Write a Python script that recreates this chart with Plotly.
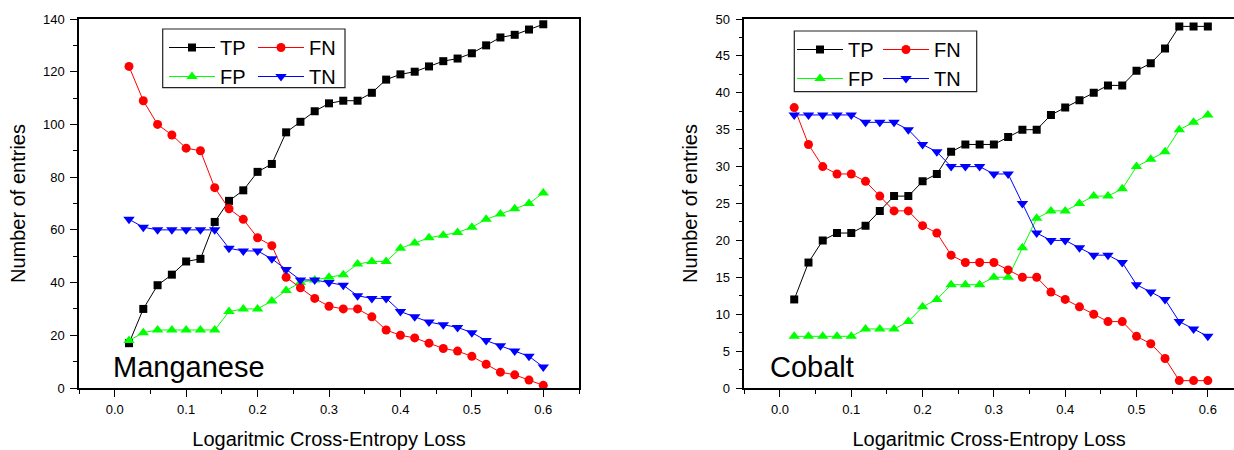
import plotly.graph_objects as go

# ---------------- data ----------------
loss = [0.02, 0.04, 0.06, 0.08, 0.10, 0.12, 0.14, 0.16, 0.18, 0.20,
        0.22, 0.24, 0.26, 0.28, 0.30, 0.32, 0.34, 0.36, 0.38, 0.40,
        0.42, 0.44, 0.46, 0.48, 0.50, 0.52, 0.54, 0.56, 0.58, 0.60]

mn_tp = [17, 30, 39, 43, 48, 49, 63, 71, 75, 82, 85, 97, 101, 105, 108,
         109, 109, 112, 117, 119, 120, 122, 124, 125, 127, 130, 133, 134, 136, 138]
mn_fn = [122, 109, 100, 96, 91, 90, 76, 68, 64, 57, 54, 42, 38, 34, 31,
         30, 30, 27, 22, 20, 19, 17, 15, 14, 12, 9, 6, 5, 3, 1]
mn_fp = [18, 21, 22, 22, 22, 22, 22, 29, 30, 30, 33, 37, 40, 41, 42,
         43, 47, 48, 48, 53, 55, 57, 58, 59, 61, 64, 66, 68, 70, 74]
mn_tn = [64, 61, 60, 60, 60, 60, 60, 53, 52, 52, 49, 45, 41, 41, 40,
         39, 35, 34, 34, 29, 27, 25, 24, 23, 21, 18, 16, 14, 12, 8]

co_tp = [12, 17, 20, 21, 21, 22, 24, 26, 26, 28, 29, 32, 33, 33, 33,
         34, 35, 35, 37, 38, 39, 40, 41, 41, 43, 44, 46, 49, 49, 49]
co_fn = [38, 33, 30, 29, 29, 28, 26, 24, 24, 22, 21, 18, 17, 17, 17,
         16, 15, 15, 13, 12, 11, 10, 9, 9, 7, 6, 4, 1, 1, 1]
co_fp = [7, 7, 7, 7, 7, 8, 8, 8, 9, 11, 12, 14, 14, 14, 15,
         15, 19, 23, 24, 24, 25, 26, 26, 27, 30, 31, 32, 35, 36, 37]
co_tn = [37, 37, 37, 37, 37, 36, 36, 36, 35, 33, 32, 30, 30, 30, 29,
         29, 25, 21, 20, 20, 19, 18, 18, 17, 14, 13, 12, 9, 8, 7]

series_names = ["TP", "FN", "FP", "TN"]
panel_names = ["Manganese", "Cobalt"]
x_title = "Logaritmic Cross-Entropy Loss"
y_title = "Number of entries"

# ---------------- styles ----------------
W, H = 1234, 450
FONT = "Arial, 'Liberation Sans', sans-serif"
styles = {
    "TP": dict(color="#000000", symbol="square", size=8),
    "FN": dict(color="#FF0000", symbol="circle", size=9),
    "FP": dict(color="#00FF00", symbol="triangle-up", size=10),
    "TN": dict(color="#0000FF", symbol="triangle-down", size=10),
}

fig = go.Figure()

def add(xa, ya, name, yvals, legend):
    st = styles[name]
    fig.add_trace(go.Scatter(
        x=loss, y=yvals, name=name, mode="lines+markers",
        xaxis=xa, yaxis=ya, legend=legend,
        line=dict(color=st["color"], width=1),
        marker=dict(symbol=st["symbol"], size=st["size"], color=st["color"],
                    line=dict(width=0)),
        showlegend=True,
    ))

# left panel: col1 = TP, FP ; col2 = FN, TN
add("x", "y", "TP", mn_tp, "legend")
add("x", "y", "FP", mn_fp, "legend")
add("x", "y", "FN", mn_fn, "legend2")
add("x", "y", "TN", mn_tn, "legend2")
# right panel
add("x2", "y2", "TP", co_tp, "legend3")
add("x2", "y2", "FP", co_fp, "legend3")
add("x2", "y2", "FN", co_fn, "legend4")
add("x2", "y2", "TN", co_tn, "legend4")

PT, PB = 19, 388  # plot top/bottom in px
def py(v):
    return (PB - v) / (PB - PT)
def px(v):
    return v / W

axis_common = dict(
    showline=True, linecolor="black", linewidth=1.5,
    ticks="outside", ticklen=7, tickwidth=1.2, tickcolor="black",
    showgrid=False, zeroline=False,
    tickfont=dict(family=FONT, size=13, color="black"),
)

fig.update_layout(
    width=W, height=H,
    margin=dict(l=0, r=0, t=PT, b=H - PB),
    paper_bgcolor="white", plot_bgcolor="white",
    font=dict(family=FONT, color="black"),
    xaxis=dict(domain=[px(79), px(579)], range=[-0.05, 0.65], anchor="y",
               tick0=0, dtick=0.1, tickformat=".1f", mirror=True, ticklabelstandoff=2,
               minor=dict(dtick=0.05, tick0=0, ticklen=4, ticks="outside", tickcolor="black", showgrid=False),
               title=dict(text=x_title, font=dict(family=FONT, size=20), standoff=17),
               **axis_common),
    yaxis=dict(domain=[0, 1], range=[0, 140], anchor="x",
               tick0=0, dtick=20, mirror=True, ticklabelstandoff=3,
               minor=dict(dtick=10, tick0=0, ticklen=4, ticks="outside", tickcolor="black", showgrid=False),
               title=dict(text=y_title, font=dict(family=FONT, size=20), standoff=12),
               **axis_common),
    xaxis2=dict(domain=[px(744.3), 1.0], range=[-0.05, 0.6367], anchor="y2",
                tick0=0, dtick=0.1, tickformat=".1f", mirror=True, ticklabelstandoff=2,
                minor=dict(dtick=0.05, tick0=0, ticklen=4, ticks="outside", tickcolor="black", showgrid=False),
                title=dict(text=x_title, font=dict(family=FONT, size=20), standoff=17),
                **axis_common),
    yaxis2=dict(domain=[0, 1], range=[0, 50], anchor="x2",
                tick0=0, dtick=5, mirror=False, ticklabelstandoff=3,
                minor=dict(dtick=2.5, tick0=0, ticklen=4, ticks="outside", tickcolor="black", showgrid=False),
                title=dict(text=y_title, font=dict(family=FONT, size=20), standoff=12),
                **axis_common),
)

leg_common = dict(orientation="v", xanchor="left", yanchor="top",
                  bgcolor="rgba(0,0,0,0)", borderwidth=0,
                  font=dict(family=FONT, size=20, color="black"),
                  itemwidth=46, tracegroupgap=0, itemclick=False, itemdoubleclick=False)
fig.update_layout(
    legend=dict(x=px(164), y=py(28), **leg_common),
    legend2=dict(x=px(253), y=py(28), **leg_common),
    legend3=dict(x=px(792), y=py(30), **leg_common),
    legend4=dict(x=px(878), y=py(30), **leg_common),
)

# legend frames
for (x0, x1, y0, y1) in [(162.7, 345, 29, 87.7), (794.3, 976.7, 31, 91.7)]:
    fig.add_shape(type="rect", xref="paper", yref="paper",
                  x0=px(x0), x1=px(x1), y0=py(y1), y1=py(y0),
                  line=dict(color="#222222", width=1.2), fillcolor="rgba(0,0,0,0)")

# panel labels
for name, xl in zip(panel_names, [111, 767.5]):
    fig.add_annotation(text=name, xref="paper", yref="paper",
                       x=px(xl), y=py(367), xanchor="left", yanchor="middle",
                       showarrow=False, font=dict(family=FONT, size=29, color="black"))

fig.write_html("out.html", config={"displayModeBar": False},
               post_script="document.body.style.margin='0';document.body.style.overflow='hidden';")
